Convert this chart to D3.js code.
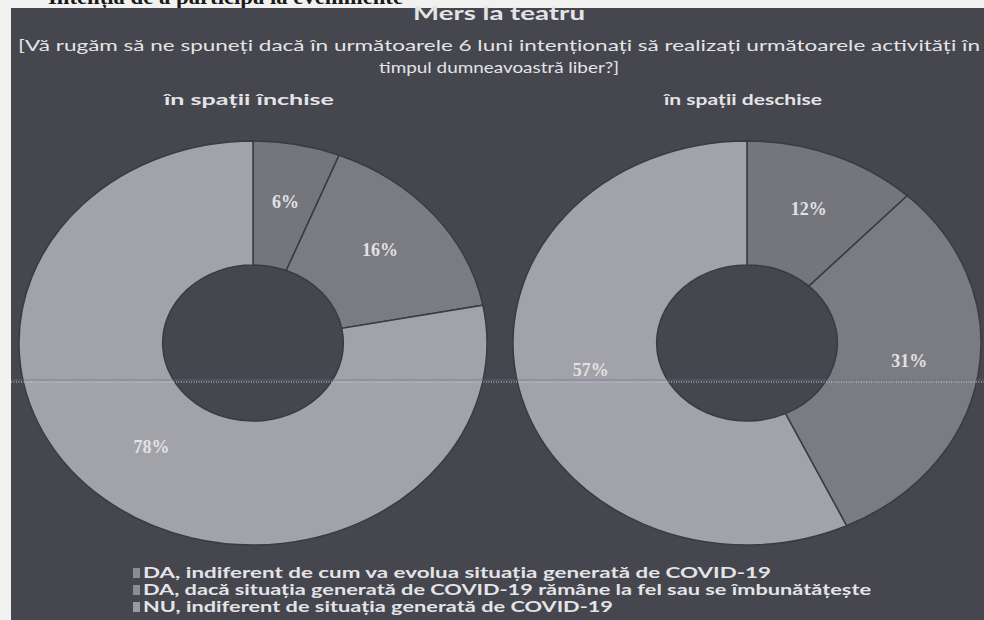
<!DOCTYPE html>
<html lang="ro">
<head>
<meta charset="UTF-8">
<title>Mers la teatru</title>
<script src="https://cdn.jsdelivr.net/npm/d3@7"></script>
<style>
  body { margin: 0; background: #f1f1ef; overflow: hidden; }
  svg { display: block; }
  .lbl { font-family: 'Liberation Serif', serif; font-weight: bold; fill: #e2e2e4; }
  .txt { font-family: Lato, 'Open Sans', sans-serif; fill: #e4e4e6; }
</style>
</head>
<body>
<div id="chart"></div>
<script>
// data
const categories = [
  "DA, indiferent de cum va evolua situația generată de COVID-19",
  "DA, dacă situația generată de COVID-19 rămâne la fel sau se îmbunătățește",
  "NU, indiferent de situația generată de COVID-19"
];
const groups = ["în spații închise", "în spații deschise"];
const valuesInchise = [6, 16, 78];
const valuesDeschise = [12, 31, 57];
const subtitleLines = [
  "[Vă rugăm să ne spuneți dacă în următoarele 6 luni intenționați să realizați următoarele activități în",
  "timpul dumneavoastră liber?]"
];

const W = 984, H = 620;
const sliceColors = ["#75767c", "#7b7c82", "#a2a3a8"];
const legendColors = ["#8c8d92", "#8c8d92", "#9a9ba0"];

const svg = d3.select("#chart").append("svg").attr("width", W).attr("height", H);

// cut-off heading of the scanned page above the panel
svg.append("text")
  .attr("x", 48).attr("y", 4)
  .attr("font-family", "'Liberation Serif', serif")
  .attr("font-weight", "bold").attr("font-size", 22).attr("fill", "#1a1a1a")
  .attr("textLength", 355).attr("lengthAdjust", "spacingAndGlyphs")
  .text("Intenția de a participa la evenimente");

// dark panel
svg.append("rect").attr("x", 11).attr("y", 8).attr("width", W - 11).attr("height", H - 8)
  .attr("fill", "#45464e");

// titles
svg.append("text").attr("class", "txt")
  .attr("x", 499).attr("y", 20).attr("text-anchor", "middle")
  .attr("font-size", 18).attr("font-weight", "bold")
  .attr("textLength", 172).attr("lengthAdjust", "spacingAndGlyphs")
  .text("Mers la teatru");

const subW = [962, 240];
svg.selectAll("text.sub").data(subtitleLines).enter().append("text")
  .attr("class", "txt sub")
  .attr("x", 499).attr("y", (d, i) => 51 + i * 22)
  .attr("text-anchor", "middle").attr("font-size", 16)
  .attr("textLength", (d, i) => subW[i]).attr("lengthAdjust", "spacingAndGlyphs")
  .text(d => d);

// donuts
const ry = 202, rIn = 78, sx = 234 / 202, cy = 343;
const centersX = [253, 747];
const pie = d3.pie().sort(null).value(d => d);
const arc = d3.arc().innerRadius(rIn).outerRadius(ry);

[valuesInchise, valuesDeschise].forEach((vals, gi) => {
  const cx = centersX[gi];
  svg.append("text").attr("class", "txt")
    .attr("x", cx - 4).attr("y", 105).attr("text-anchor", "middle")
    .attr("font-size", 16).attr("font-weight", "bold")
    .attr("textLength", gi === 0 ? 170 : 158).attr("lengthAdjust", "spacingAndGlyphs")
    .text(groups[gi]);

  const g = svg.append("g").attr("transform", `translate(${cx},${cy}) scale(${sx},1)`);
  const arcs = pie(vals);
  g.selectAll("path").data(arcs).enter().append("path")
    .attr("d", arc)
    .attr("fill", (d, i) => sliceColors[i])
    .attr("stroke", "#3a3b42").attr("stroke-width", 1.5)
    .attr("vector-effect", "non-scaling-stroke");

  svg.selectAll(null).data(arcs).enter().append("text")
    .attr("class", "lbl")
    .attr("x", d => cx + arc.centroid(d)[0] * sx + 2)
    .attr("y", d => cy - 4 + arc.centroid(d)[1])
    .attr("dy", "0.35em").attr("text-anchor", "middle")
    .attr("font-size", 18)
    .text(d => d.data + "%");
});

// scan artefact line
svg.append("line").attr("x1", 11).attr("x2", W).attr("y1", 380).attr("y2", 380)
  .attr("stroke", "#6c6d92").attr("stroke-width", 1).attr("opacity", 0.6);
svg.append("line").attr("x1", 11).attr("x2", W).attr("y1", 382).attr("y2", 382)
  .attr("stroke", "#d0d0d4").attr("stroke-width", 1.2).attr("stroke-dasharray", "1,1.5");

// legend
const legend = svg.append("g").attr("transform", "translate(133,578)");
const legW = [628, 728, 470];
const item = legend.selectAll("g").data(categories).enter().append("g")
  .attr("transform", (d, i) => `translate(0,${i * 17})`);
item.append("rect").attr("x", 0).attr("y", -10).attr("width", 7).attr("height", 10)
  .attr("fill", (d, i) => legendColors[i]);
item.append("text").attr("class", "txt")
  .attr("x", 10).attr("y", 0).attr("font-size", 15).attr("font-weight", "bold")
  .attr("textLength", (d, i) => legW[i]).attr("lengthAdjust", "spacingAndGlyphs")
  .text(d => d);
</script>
</body>
</html>
